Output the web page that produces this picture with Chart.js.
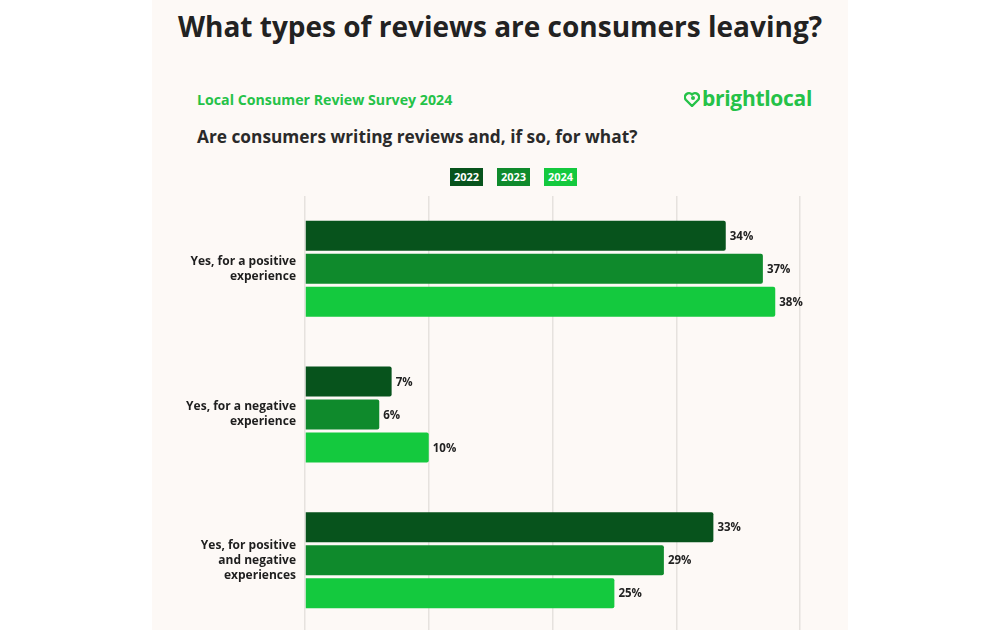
<!DOCTYPE html>
<html>
<head>
<meta charset="utf-8">
<script src="https://cdn.jsdelivr.net/npm/chart.js@4/dist/chart.umd.min.js"></script>
<style>
  html, body { margin: 0; padding: 0; width: 1000px; height: 630px; overflow: hidden; background: #ffffff; font-family: "Open Sans", sans-serif; }
  #panel { position: absolute; left: 152px; top: 0; width: 696px; height: 630px; background: #fdf9f6; }
  #title { position: absolute; left: 0; width: 1000px; top: 7px; text-align: center; font-size: 28px; font-weight: 700; color: #222222; }
  #survey { position: absolute; left: 197px; top: 90px; font-size: 14.2px; font-weight: 700; color: #25c248; }
  #logo { position: absolute; left: 684px; top: 84px; font-size: 21px; font-weight: 700; color: #25c248; letter-spacing: -0.3px; }
  #logo svg { vertical-align: -1px; margin-right: 2px; }
  #question { position: absolute; left: 197px; top: 125px; font-size: 17.3px; font-weight: 700; color: #2a2a2a; }
  .lg { position: absolute; top: 168px; width: 33px; height: 18px; line-height: 18px; text-align: center; color: #ffffff; font-size: 11px; font-weight: 700; }
  #wrap { position: absolute; left: 152px; top: 190px; width: 696px; height: 450px; }
</style>
</head>
<body>
<div id="panel"></div>
<div id="title">What types of reviews are consumers leaving?</div>
<div id="survey">Local Consumer Review Survey 2024</div>
<div id="logo"><svg width="16" height="16" viewBox="0 0 16 16"><path d="M8 15 L2 9 A3.6 3.6 0 0 1 8 3.5 A3.6 3.6 0 0 1 14 9 Z" fill="none" stroke="#25c248" stroke-width="2.4"/><circle cx="9" cy="7" r="2" fill="#25c248"/></svg>brightlocal</div>
<div id="question">Are consumers writing reviews and, if so, for what?</div>
<div class="lg" style="left:450px;background:#07531c">2022</div>
<div class="lg" style="left:497px;background:#0f8a2c">2023</div>
<div class="lg" style="left:544px;background:#14c93e">2024</div>
<div id="wrap"><canvas id="chart" width="696" height="450"></canvas></div>
<script>
// answers (y axis)
const categories = [
  ['Yes, for a positive', 'experience'],
  ['Yes, for a negative', 'experience'],
  ['Yes, for positive', 'and negative', 'experiences']
];
const years = ['2022', '2023', '2024'];
const colors = ['#07531c', '#0f8a2c', '#14c93e'];
// percentages per year
const values2022 = [34, 7, 33];
const values2023 = [37, 6, 29];
const values2024 = [38, 10, 25];
const xTicks = [0, 10, 20, 30, 40];

// draws "34%" next to each bar
const barLabels = {
  id: 'barLabels',
  afterDatasetsDraw(chart) {
    const ctx = chart.ctx;
    ctx.save();
    ctx.font = 'bold 11.5px "Open Sans"';
    ctx.fillStyle = '#222222';
    ctx.textBaseline = 'middle';
    ctx.textAlign = 'left';
    chart.data.datasets.forEach(function(ds, i) {
      const meta = chart.getDatasetMeta(i);
      meta.data.forEach(function(bar, j) {
        ctx.fillText(ds.data[j] + '%', bar.x + 4, bar.y + 1);
      });
    });
    ctx.restore();
  }
};

const allValues = [values2022, values2023, values2024];
let datasets = [];
for (let i = 0; i < years.length; i++) {
  datasets.push({
    label: years[i],
    data: allValues[i],
    backgroundColor: colors[i],
    borderRadius: 2,
    borderSkipped: 'left',
    categoryPercentage: 0.68,
    barPercentage: 0.91
  });
}

new Chart(document.getElementById('chart'), {
  type: 'bar',
  data: { labels: categories, datasets: datasets },
  plugins: [barLabels],
  options: {
    indexAxis: 'y',
    responsive: false,
    animation: false,
    layout: { padding: { left: 0, right: 48, top: 6, bottom: 7 } },
    plugins: { legend: { display: false }, tooltip: { enabled: false } },
    scales: {
      x: {
        min: 0, max: 40,
        afterBuildTicks: function(scale) { scale.ticks = xTicks.map(function(v) { return { value: v }; }); },
        afterFit: function(scale) { scale.height = 0; scale.paddingLeft = 0; scale.paddingRight = 0; },
        ticks: { display: false },
        grid: { color: '#e6e2de', lineWidth: 1.5, drawTicks: false },
        border: { display: false }
      },
      y: {
        afterFit: function(scale) { scale.width = 153; scale.paddingTop = 0; scale.paddingBottom = 0; },
        grid: { display: false, drawTicks: false },
        border: { display: false },
        ticks: {
          color: '#1e1e1e',
          padding: 9,
          font: { family: '"Open Sans"', size: 12, weight: 'bold', lineHeight: 1.25 }
        }
      }
    }
  }
});
</script>
</body>
</html>
